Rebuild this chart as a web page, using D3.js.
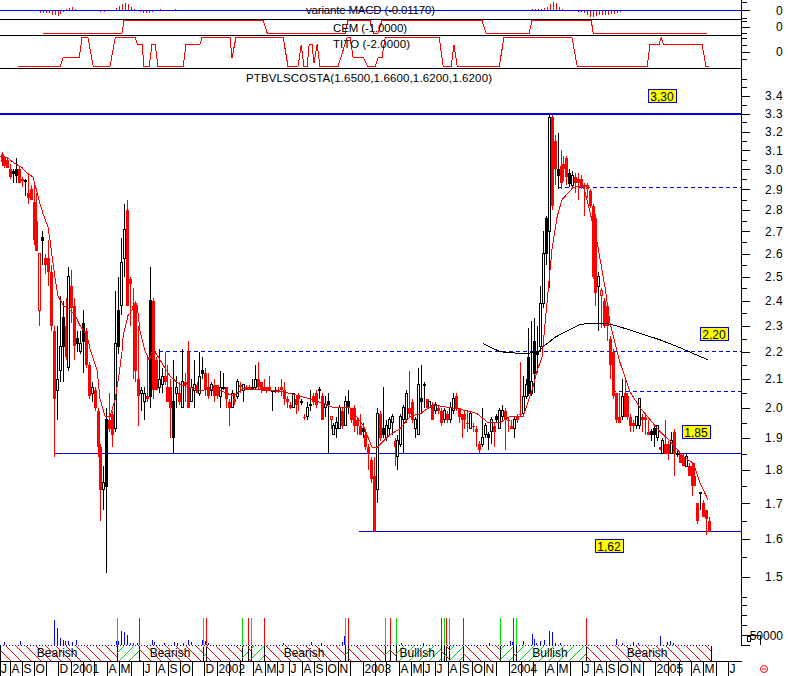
<!DOCTYPE html>
<html><head><meta charset="utf-8">
<script src="https://cdn.jsdelivr.net/npm/d3@7"></script>
<style>
html,body{margin:0;padding:0;background:#fff;overflow:hidden}
svg{display:block}
text{font-family:"Liberation Sans",Arial,sans-serif;fill:#000}
</style></head><body><svg id="c" width="788" height="676"></svg>
<script>
// Weekly candles: [open, high, low, close, optional kind] k = solid black, h = hollow red
const candles2000 = [
[3.08,3.09,3.02,3.04],[3.06,3.07,3.01,3.02],[3.05,3.06,3.01,3.01],[3.00,3.03,2.95,2.96],
[2.98,3.00,2.93,2.99,"k"],[2.97,3.06,2.93,3.00,"k"],[3.00,3.02,2.93,2.93],[2.95,2.96,2.91,2.94],
[2.94,2.95,2.87,2.945,"k"],[2.88,2.97,2.83,2.86],[2.90,2.92,2.85,2.85],[2.84,2.92,2.64,2.66],
[2.75,2.88,2.62,2.61],[2.36,2.60,2.30,2.60,"h"],[2.66,2.70,2.55,2.67,"k"],[2.58,2.60,2.51,2.55],[2.58,2.66,2.46,2.52],
[2.52,2.55,2.28,2.30],[2.28,2.30,1.84,2.03],[2.06,2.30,1.96,2.10],[2.13,2.42,2.09,2.22],[2.22,2.40,2.09,2.33,"k"],
[2.30,2.41,2.17,2.18]
];
const candles2001 = [
[2.14,2.54,2.13,2.50],[2.46,2.53,2.31,2.37],[2.38,2.41,2.17,2.22],[2.23,2.28,2.20,2.25,"k"],[2.20,2.28,2.19,2.23],
[2.24,2.36,2.12,2.31,"k"],[2.28,2.29,2.14,2.15],[2.15,2.16,2.03,2.04],[2.05,2.09,2.02,2.07],[2.06,2.07,1.99,2.00],
[1.99,2.00,1.84,1.87],[1.87,1.88,1.65,1.74],[1.74,1.81,1.68,1.76],[1.75,2.00,1.51,1.96,"k"],[1.96,2.05,1.92,1.93],
[1.98,1.99,1.87,1.91],[1.93,2.44,1.92,2.23],[2.22,2.50,2.19,2.36,"k"],[2.38,2.67,2.34,2.56],[2.58,2.83,2.50,2.71],
[2.80,2.85,2.38,2.38],[2.49,2.50,2.30,2.47],[2.38,2.45,2.10,2.37],[2.39,2.40,2.09,2.13],[2.10,2.30,1.94,2.04],
[2.05,2.07,1.99,2.06],[2.02,2.07,1.96,2.05],[2.04,2.18,2.02,2.03],[2.04,2.54,2.00,2.40,"k"],[2.40,2.41,2.03,2.06],
[2.17,2.18,2.06,2.06],[2.07,2.21,2.05,2.10],[2.08,2.14,2.05,2.11],[2.11,2.20,2.08,2.09],[2.07,2.15,2.02,2.02],
[2.07,2.10,1.90,2.00],[1.90,2.17,1.85,2.02,"k"],[2.05,2.11,2.00,2.07],[2.05,2.09,2.01,2.02],[2.00,2.21,2.00,2.09],
[2.09,2.12,2.02,2.08],[2.20,2.24,2.00,2.00],[2.02,2.10,2.02,2.07]
];
const candles2002 = [
[2.06,2.17,2.00,2.08],[2.08,2.09,2.05,2.05],[2.05,2.20,2.04,2.11],[2.12,2.18,2.10,2.13,"k"],[2.12,2.14,2.04,2.06],
[2.07,2.12,2.03,2.04],[2.06,2.09,2.04,2.08],[2.08,2.10,2.02,2.04],[2.08,2.08,2.03,2.04],[2.04,2.13,2.00,2.07],
[2.07,2.12,2.06,2.07],[2.07,2.07,2.00,2.03],[2.02,2.03,1.94,2.00],[2.00,2.06,2.00,2.05],[2.03,2.05,2.01,2.02],
[2.04,2.10,2.03,2.09],[2.08,2.09,2.05,2.07],[2.06,2.08,2.02,2.08],[2.07,2.08,2.06,2.06],[2.07,2.08,2.06,2.06],
[2.07,2.10,2.06,2.07,"k"],[2.07,2.15,2.06,2.10],[2.10,2.16,2.06,2.07],[2.09,2.09,2.05,2.06],[2.07,2.10,2.06,2.06],
[2.07,2.07,2.05,2.06],[2.07,2.11,2.06,2.06],[2.06,2.06,1.99,2.06],[2.06,2.07,2.05,2.06],[2.06,2.07,2.05,2.055],
[2.07,2.10,2.04,2.06],[2.06,2.09,2.01,2.03],[2.03,2.04,2.00,2.02],[2.01,2.02,1.995,2.00],[2.00,2.05,2.00,2.05],
[2.03,2.04,1.98,2.01],[2.04,2.05,1.99,2.03],[2.02,2.03,2.01,2.02],[1.97,1.98,1.96,1.965],[1.97,2.02,1.96,2.00],
[2.01,2.06,1.99,2.012,"k"],[2.04,2.05,2.01,2.02],[2.05,2.06,2.00,2.01],[2.06,2.07,2.03,2.062,"k"],[2.04,2.05,1.96,1.96],
[2.00,2.04,1.97,2.01],[2.01,2.05,1.85,2.02,"k"],[1.96,1.97,1.93,1.97,"h"],[1.91,1.95,1.91,1.94],[1.93,1.97,1.90,1.95],
[1.93,2.01,1.93,2.00]
];
const candles2003 = [
[1.99,2.00,1.93,1.94],[1.94,2.04,1.94,2.02],[2.00,2.06,1.98,2.02,"k"],[2.00,2.00,1.95,1.96],[2.00,2.01,1.92,1.94],
[1.96,1.97,1.91,1.94],[1.94,1.98,1.91,1.91],[1.92,1.95,1.90,1.93,"k"],[1.91,1.93,1.86,1.87],[1.87,1.88,1.80,1.85],
[1.83,1.84,1.76,1.77],[1.78,1.84,1.62,1.62],[1.74,2.00,1.70,1.98],[1.98,1.99,1.89,1.90],[1.91,2.07,1.90,1.93,"k"],
[1.90,1.96,1.89,1.94],[1.93,1.97,1.91,1.96],[1.95,1.98,1.91,1.97],[1.89,1.90,1.81,1.87],[1.84,1.91,1.80,1.89],
[1.88,1.98,1.87,1.97],[1.96,2.01,1.85,2.00],[1.96,2.06,1.95,2.05],[2.00,2.13,1.97,1.98],[2.02,2.03,1.95,1.96],
[1.93,1.97,1.90,1.96],[1.91,2.14,1.91,2.08],[2.02,2.15,1.98,2.03,"k"],[2.08,2.09,2.00,2.08],[2.03,2.03,2.00,2.00],
[2.00,2.02,2.00,2.02],[2.01,2.02,1.96,1.96],[1.99,2.02,1.98,2.01],[2.00,2.01,1.98,1.99],[1.99,2.00,1.94,1.95],
[1.96,2.00,1.95,1.99],[1.98,1.99,1.95,1.96],[1.96,2.02,1.95,2.00],[1.99,2.05,1.98,2.03],[2.04,2.05,1.99,2.00],
[2.00,2.00,1.95,1.97],[1.98,1.98,1.90,1.96],[1.98,1.99,1.93,1.96],[1.95,1.99,1.92,1.945],[1.93,1.99,1.93,1.98],
[1.94,1.95,1.92,1.935],[1.93,1.94,1.87,1.92],[1.88,1.89,1.85,1.86]
];
const candles2004 = [
[1.88,2.00,1.87,1.90],[1.91,1.95,1.90,1.94],[1.90,1.92,1.86,1.91,"k"],[1.92,1.97,1.88,1.96],[1.94,1.95,1.87,1.92],
[1.96,1.98,1.95,1.97,"k"],[1.93,2.00,1.93,1.99],[1.97,2.01,1.96,1.99],[1.99,2.00,1.86,1.96],[1.96,1.97,1.92,1.955],
[1.94,1.96,1.93,1.93],[1.93,1.97,1.90,1.96],[1.97,1.98,1.95,1.96],[1.98,2.16,1.97,1.975],[1.98,2.11,1.98,2.04],
[2.04,2.10,2.03,2.08],[2.05,2.29,2.04,2.18,"k"],[2.05,2.32,2.04,2.09],[2.12,2.33,2.05,2.24,"k"],[2.19,2.30,2.12,2.20,"k"],
[2.22,2.46,2.20,2.39],[2.39,2.70,2.37,2.60],[2.60,2.77,2.55,2.76,"k"],[2.70,3.30,2.45,3.28],[3.28,3.29,2.80,2.82],
[3.15,3.18,2.92,3.00],[2.97,3.19,2.90,3.00,"k"],[3.02,3.10,2.90,2.93],[3.03,3.07,2.94,3.00],[3.06,3.07,2.92,2.96],
[2.93,3.00,2.91,2.98,"k"],[2.92,2.99,2.90,2.97],[2.96,2.98,2.88,2.93],[2.95,2.98,2.85,2.93],[2.95,2.97,2.90,2.91],
[2.92,2.93,2.77,2.91],[2.92,2.93,2.86,2.90],[2.89,2.90,2.81,2.82],[2.82,2.83,2.49,2.50],[2.76,2.78,2.38,2.43],
[2.46,2.52,2.28,2.50],[2.42,2.45,2.29,2.44,"h"],[2.40,2.41,2.29,2.30],[2.38,2.39,2.24,2.30],[2.25,2.26,2.10,2.15],
[2.20,2.21,2.03,2.04],[2.05,2.05,1.95,1.96],[1.97,2.05,1.95,1.95],[1.97,2.10,1.96,2.04],[2.05,2.10,1.97,1.97],
[2.04,2.05,1.96,1.97],[1.97,1.98,1.92,1.94],[1.95,1.96,1.92,1.94],[1.94,1.97,1.93,1.97],[1.94,2.03,1.93,2.03],
[1.97,1.98,1.92,1.96]
];
const candles2005 = [
[1.97,1.98,1.91,1.96],[1.92,1.96,1.91,1.91],[1.91,1.93,1.89,1.92,"k"],[1.91,1.94,1.87,1.93,"k"],[1.90,1.94,1.89,1.94],
[1.87,1.87,1.86,1.86],[1.85,1.90,1.85,1.89],[1.88,1.96,1.85,1.85],[1.88,1.89,1.83,1.85],[1.85,1.92,1.85,1.89],
[1.92,1.93,1.78,1.85],[1.85,1.86,1.84,1.85],[1.85,1.85,1.82,1.82],[1.84,1.85,1.81,1.81],[1.81,1.85,1.81,1.84],
[1.81,1.82,1.78,1.78],[1.81,1.82,1.72,1.75],[1.78,1.82,1.75,1.75],[1.70,1.70,1.64,1.65],[1.73,1.73,1.68,1.732,"k"],
[1.70,1.71,1.66,1.66],[1.68,1.68,1.61,1.655],[1.65,1.66,1.62,1.62]
];

// Short moving average (days since 3 Jul 2000)
const maDays = [0,18,38,55,63,83,88,100,108,120,125,130,138,145,158,170,188,200,218,225,243,250,263,275,288,298,305,308,320,338,343,350,363,373,383,400,425,450,475,500,543,583,608,668,708,750,775,808,833,875,908,930,943,975,1000,1025,1050,1083,1125,1168,1193,1220,1250,1275,1308,1330,1343,1355,1368,1380,1393,1405,1433,1458,1475,1493,1513,1525,1550,1575,1600,1625,1650,1675,1708,1733,1750,1770];
const maValues = [3.07,3.06,3.03,3.01,2.99,2.96,2.92,2.83,2.78,2.72,2.66,2.59,2.49,2.42,2.38,2.37,2.34,2.30,2.26,2.21,2.13,2.03,1.97,1.97,2.03,2.12,2.20,2.26,2.34,2.38,2.38,2.28,2.20,2.17,2.21,2.17,2.11,2.08,2.07,2.06,2.065,2.04,2.065,2.06,2.055,2.04,2.03,2.015,2.0,2.0,1.94,1.87,1.87,1.91,1.93,1.97,1.98,2.01,2.0,1.99,1.98,1.95,1.95,1.97,1.97,2.06,2.13,2.18,2.40,2.62,2.77,2.85,2.91,2.92,2.79,2.65,2.45,2.31,2.16,2.055,2.00,1.96,1.92,1.89,1.84,1.82,1.76,1.71];

// Long moving average
const longMaDays = [1208,1250,1288,1325,1345,1363,1388,1425,1450,1488,1513,1550,1600,1650,1700,1738,1770];
const longMaValues = [2.23,2.20,2.195,2.195,2.20,2.225,2.255,2.285,2.305,2.31,2.31,2.295,2.27,2.245,2.215,2.19,2.17];

// Horizontal levels
const solidLevels = [1.85,1.62];
const solidStarts = [135,898];
const dashLevels = [2.2,2.91,2.055];
const dashStarts = [380,1395,1530];
const topLevel = 3.3;
const noteLabels = ["3,30","2,20","1,85","1,62"];
const noteDays = [1620,1750,1705,1488];

// Indicator panels
const macdDays = [93,100,108,115,123,130,138,145,150,158,165,173,180,188,215,238,250,260,290,298,305,313,320,328,335,350,358,365,373,380,400,425,438,575,725,1173,1198,1330,1338,1345,1353,1360,1368,1375,1383,1390,1398,1405,1415,1423,1430,1438,1445,1453,1460,1468,1475,1483,1490,1498,1505,1513,1520,1528,1535,1543,1550,1558,1565,1595,1750,1758];
const macdValues = [-.01,-.03,-.03,-.03,-.03,-.05,-.05,-.06,-.04,-.02,.01,.02,.03,.01,-.01,-.01,-.02,-.02,.02,.04,.06,.07,.06,.03,.01,-.02,-.03,-.03,-.03,-.02,.01,-.01,.01,-.01,-.01,-.01,-.01,.01,.01,.01,.01,.02,.03,.06,.08,.07,.03,.01,-.01,-.01,-.01,-.01,-.02,-.02,-.03,-.05,-.07,-.07,-.06,-.05,-.05,-.05,-.05,-.04,-.04,-.03,-.02,-.01,-.01,-.01,-.01,-.01];
const cemDays = [108,305,310,658,668,863,870,925,933,945,955,1205,1215,1323,1330,1478,1483,1768];
const cemValues = [-1,-1,1,1,-1,-1,1,1,-1,-1,1,1,-1,-1,1,1,-1,-1];
const titoDays = [45,150,158,198,205,220,233,275,288,338,343,355,360,373,380,388,395,458,465,500,505,575,580,590,708,720,745,753,760,768,773,780,785,793,800,845,858,868,875,883,908,920,938,945,955,963,1098,1108,1128,1135,1143,1248,1260,1430,1443,1618,1625,1648,1653,1658,1755,1765,1773];
const titoValues = [-2,-2,-.8,-.8,2,2,-2,-2,2,2,1.1,1.1,-2,-2,1.1,1.1,-2,-2,1.1,1.1,2,2,-.8,2,2,-2,-2,1,-2,-2,1.1,1.1,-1.5,1.1,-2,-2,.3,2,2,-.8,-.8,-2,-2,-.8,-.8,2,2,-2,-2,1,-2,-2,2,2,-2,-2,1.1,1.1,2,1.1,1.1,-2,-2];

// Volume
const volDays = [10,50,135,143,150,158,163,170,180,190,290,295,303,310,318,325,333,343,380,385,410,435,443,458,470,478,505,513,520,708,778,803,855,860,1003,1058,1223,1275,1280,1308,1330,1335,1340,1350,1360,1373,1380,1388,1400,1540,1555,1583,1595,1650,1668,1675,1683];
const volValues = [15000,20000,125000,85000,35000,25000,20000,20000,15000,25000,20000,20000,70000,65000,50000,10000,10000,10000,25000,15000,10000,15000,10000,10000,25000,15000,25000,20000,10000,10000,15000,10000,15000,45000,10000,10000,10000,20000,15000,20000,55000,30000,10000,20000,25000,70000,65000,10000,10000,30000,10000,15000,10000,45000,15000,20000,10000];

// Signals and regimes
const buySignals = [293,508,605,628,863,963,990,1110,1123,1250,1290];
const sellSignals = [348,515,620,660,870,975,1103,1115,1158,1283,1465];
const regimeNames = ["Bearish","Bearish","Bearish","Bullish","Bullish","Bearish"];
const regimeDays = [143,425,760,1043,1375,1618];
const lastDay = 1778;

// Time axis
const monthLabels = {"2000-07":"J","2000-08":"A","2000-09":"S","2000-10":"O","2000-12":"D","2001-01":"2001","2001-04":"A","2001-05":"M","2001-07":"J","2001-08":"A","2001-09":"S","2001-10":"O","2001-12":"D","2002-01":"2002","2002-04":"A","2002-05":"M","2002-06":"J","2002-07":"J","2002-08":"A","2002-09":"S","2002-10":"O","2002-11":"N","2003-01":"2003","2003-04":"A","2003-05":"M","2003-06":"J","2003-07":"J","2003-08":"A","2003-09":"S","2003-10":"O","2003-11":"N","2004-01":"2004","2004-04":"A","2004-05":"M","2004-07":"J","2004-08":"A","2004-09":"S","2004-10":"O","2004-11":"N","2005-01":"2005","2005-04":"A","2005-05":"M","2005-07":"J"};
const priceMajor = [1.5,1.6,1.7,1.8,1.9,2.0,2.1,2.2,2.3,2.4,2.5,2.6,2.7,2.8,2.9,3.0,3.1,3.2,3.3,3.4];
const priceMinor = [1.45,1.55,1.65,1.75,1.85,1.95,2.05,2.15,2.25,2.35,2.45,2.55,2.65,2.75,2.85,2.95,3.05,3.15,3.25,3.35,3.45,3.5];

const candles = [...candles2000,...candles2001,...candles2002,...candles2003,...candles2004,...candles2005];
const RED="#ff0000", GREEN="#00e000", BLUE="#0000dd", W=788, H=676, AX=741.5;
const svg = d3.select("#c");
const defs = svg.append("defs");
[["hatchBear",RED,[0,0,10,10]],["hatchBull",GREEN,[0,10,10,0]]].forEach(([id,col,l])=>{
  defs.append("pattern").attr("id",id).attr("patternUnits","userSpaceOnUse").attr("width",10).attr("height",10)
    .append("line").attr("x1",l[0]).attr("y1",l[1]).attr("x2",l[2]).attr("y2",l[3]).attr("stroke",col).attr("stroke-width",1);
});

const x = d3.scaleLinear().domain([0,1770]).range([0,708]);
const xDate = d3.scaleTime().domain([new Date(2000,6,8),new Date(2000,6,8+1770)]).range([0,708]);
const xBar = d3.scalePoint().domain(d3.range(candles.length)).range([1.5,709]);
const y = d3.scaleLog().domain([1.62,3.3]).range([531.5,113.5]);
const yMacd = d3.scaleLinear().domain([-.1,.1]).range([20.3,0.3]);
const yCem = d3.scaleLinear().domain([-1,1]).range([33,20.5]);
const yTito = d3.scaleLinear().domain([-2,2]).range([66.5,37.5]);
const yVol = d3.scaleLinear().domain([0,50000]).range([645,635]);
const px = v=>Math.round(v)+.5;
const fl = v=>Math.floor(v)+.5;

const root = svg.append("g").attr("shape-rendering","crispEdges");

// Panels
[19.5,35.5,68.5].forEach(v=>root.append("line").attr("x1",0).attr("x2",AX).attr("y1",v).attr("y2",v).attr("stroke","#000"));
root.append("g").selectAll("line").data(macdDays).join("line")
  .attr("x1",(d)=>px(x(d))).attr("x2",(d)=>px(x(d)))
  .attr("y1",yMacd(0)).attr("y2",(d,i)=>yMacd(macdValues[i])).attr("stroke",RED);
root.append("line").attr("x1",0).attr("x2",AX).attr("y1",10.5).attr("y2",10.5).attr("stroke","#0000ff");
const pathLine=(xs,ys,sx,sy,col,w)=>root.append("path")
  .attr("d",d3.line().x(d=>sx(d[0])).y(d=>sy(d[1]))(xs.map((d,i)=>[d,ys[i]])))
  .attr("fill","none").attr("stroke",col).attr("stroke-width",w);
pathLine(cemDays,cemValues,x,yCem,RED,1);
pathLine(titoDays,titoValues,x,yTito,RED,1);

// Levels
root.append("line").attr("x1",0).attr("x2",AX).attr("y1",y(topLevel)).attr("y2",y(topLevel)).attr("stroke","#0000e0").attr("stroke-width",2);
solidLevels.forEach((v,i)=>root.append("line").attr("x1",x(solidStarts[i])).attr("x2",AX).attr("y1",fl(y(v))).attr("y2",fl(y(v))).attr("stroke",BLUE));
dashLevels.forEach((v,i)=>root.append("line").attr("x1",x(dashStarts[i])).attr("x2",AX).attr("y1",fl(y(v))).attr("y2",fl(y(v))).attr("stroke",BLUE).attr("stroke-dasharray","4,3"));

// Candles
const cg = root.append("g");
const isUp = d=>d[3]>=d[0];
const tone = d=> (d[4]==="h"||!isUp(d)) ? RED : "#000";
cg.selectAll("line").data(candles).join("line")
  .attr("x1",(d,i)=>Math.round(xBar(i))+.5).attr("x2",(d,i)=>Math.round(xBar(i))+.5)
  .attr("y1",d=>y(d[1])).attr("y2",d=>y(d[2])).attr("stroke",tone);
cg.selectAll("rect").data(candles).join("rect")
  .attr("x",(d,i)=>Math.round(xBar(i))-.5+(isUp(d)?0:-.5))
  .attr("width",d=>isUp(d)?2:3)
  .attr("y",d=>y(Math.max(d[0],d[3])))
  .attr("height",d=>Math.max(1,Math.abs(y(d[0])-y(d[3]))))
  .attr("fill",d=>!isUp(d)?RED:(d[4]==="k"?"#000":"#fff"))
  .attr("stroke",d=>!isUp(d)?"none":(d[4]==="h"?RED:"#000"));

// Moving averages
pathLine(maDays,maValues,x,y,RED,1);
pathLine(longMaDays,longMaValues,x,y,"#000",1);

// Notes
const noteY=[95.5,333.5,431.5,545.5];
noteLabels.forEach((t,i)=>{
  const g=root.append("g").attr("transform",`translate(${Math.round(x(noteDays[i]))},${noteY[i]})`);
  g.append("rect").attr("x",0).attr("y",-6.5).attr("width",28).attr("height",13).attr("fill","#ffff00").attr("stroke",BLUE);
  g.append("text").attr("x",14).attr("y",5).attr("text-anchor","middle").attr("font-size",12).attr("shape-rendering","auto").text(t);
});

// Volume
root.append("line").attr("x1",0).attr("x2",x(lastDay)).attr("y1",645.5).attr("y2",645.5).attr("stroke","#0000ff").attr("stroke-dasharray","1,2");
root.append("g").selectAll("rect").data(volDays).join("rect")
  .attr("x",d=>Math.round(x(d))).attr("width",1)
  .attr("y",(d,i)=>yVol(volValues[i])).attr("height",(d,i)=>yVol(0)-yVol(volValues[i]))
  .attr("fill","#0000ff");

// Signals and regime bands
const events=[...buySignals.map(d=>[d,"buy"]),...sellSignals.map(d=>[d,"sell"])].sort((a,b)=>a[0]-b[0]);
const edges=[[0,"sell"],...events,[lastDay,"end"]];
d3.pairs(edges).forEach(([a,b])=>{
  root.append("rect").attr("x",x(a[0])).attr("width",x(b[0])-x(a[0])).attr("y",646).attr("height",15)
    .attr("fill",a[1]==="buy"?"url(#hatchBull)":"url(#hatchBear)");
  root.append("line").attr("x1",px(x(b[0]))).attr("x2",px(x(b[0]))).attr("y1",646).attr("y2",661).attr("stroke","#000");
});
root.append("line").attr("x1",.5).attr("x2",.5).attr("y1",646).attr("y2",661).attr("stroke","#000");
events.forEach(e=>root.append("line").attr("x1",px(x(e[0]))).attr("x2",px(x(e[0]))).attr("y1",618).attr("y2",645)
  .attr("stroke",e[1]==="buy"?GREEN:RED));
regimeNames.forEach((n,i)=>root.append("text").attr("x",x(regimeDays[i])).attr("y",657).attr("text-anchor","middle").attr("font-size",12).text(n));

// Time axis
root.append("line").attr("x1",0).attr("x2",AX).attr("y1",661.5).attr("y2",661.5).attr("stroke","#000");
d3.timeMonth.range(new Date(2000,6,1),new Date(2005,7,1)).forEach(m=>{
  const k=d3.timeFormat("%Y-%m")(m), X=Math.max(0,px(xDate(m)));
  root.append("line").attr("x1",X).attr("x2",X).attr("y1",661).attr("y2",676).attr("stroke","#000");
  if(monthLabels[k]) root.append("text").attr("x",X+1).attr("y",673).attr("font-size",12).text(monthLabels[k]);
});

// Axes on the right
const rightAxis=(scale,vals,len,lab)=>{
  const a=d3.axisRight(scale).tickValues(vals).tickSize(len).tickFormat(lab);
  const g=root.append("g").attr("transform",`translate(${AX},0)`).call(a);
  g.select(".domain").remove();
  g.selectAll("line").attr("stroke","#000");
  g.selectAll("text").attr("x",41.5).attr("text-anchor","end").attr("font-family","Liberation Sans").attr("font-size",12).attr("letter-spacing",.4).attr("fill","#000");
  return g;
};
root.append("line").attr("x1",AX).attr("x2",AX).attr("y1",0).attr("y2",646).attr("stroke","#000");
rightAxis(y,priceMajor,8,d3.format(".1f"));
rightAxis(y,priceMinor,5,()=> "");
rightAxis(yMacd,[0],8,()=> "0");
rightAxis(yMacd,[-.08,.08],5,()=> "");
rightAxis(yCem,[0],8,()=> "0");
rightAxis(yCem,[1,-1],5,()=> "");
rightAxis(yTito,[0],8,()=> "0");
rightAxis(yTito,[-1,1,2],5,()=> "");
rightAxis(yVol,[0,50000],8,()=> "");
rightAxis(yVol,[100000,150000,200000],5,()=> "");
root.append("path").attr("d",d3.line()([[AX,yVol(50000)+.5],[760.5,yVol(50000)+.5],[760.5,yVol(0)]])).attr("fill","none").attr("stroke","#000");
root.append("rect").attr("x",747.5).attr("y",636.5).attr("width",3).attr("height",5).attr("fill","none").attr("stroke","#000");
root.append("text").attr("x",783).attr("y",640).attr("text-anchor","end").attr("font-size",12).text("50000");

// Titles
const titles=[["variante MACD (-0.01170)",306,14,129],["CEM (-1.0000)",333,32,74],["TITO (-2.0000)",333,48,77],["PTBVLSCOSTA(1.6500,1.6600,1.6200,1.6200)",246,82,246]];
titles.forEach(t=>root.append("text").attr("x",t[1]).attr("y",t[2]).attr("font-size",11.5).attr("textLength",t[3]).attr("lengthAdjust","spacing").text(t[0]));

// Status mark
const mk=svg.append("g").attr("transform","translate(764,669)").attr("fill","none").attr("stroke",RED);
mk.append("circle").attr("r",3.5);
mk.append("line").attr("x1",-2).attr("x2",2);
</script></body></html>
